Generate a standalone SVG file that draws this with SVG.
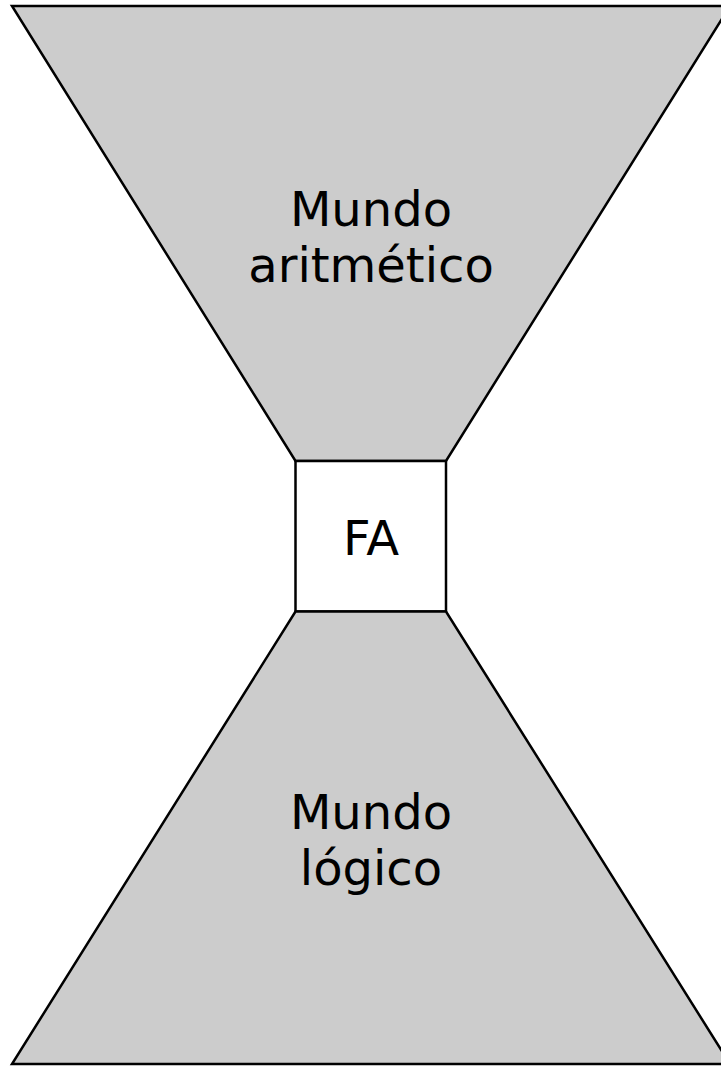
<svg xmlns="http://www.w3.org/2000/svg" width="721" height="1066" viewBox="0 0 721 1066">
<style>
.shape{fill:#cccccc;stroke:#000;stroke-width:2.5;stroke-linejoin:miter}
.box{fill:#fff;stroke:#000;stroke-width:2.5}
.lbl{font-family:"DejaVu Sans",sans-serif;font-size:48px;fill:#000;text-anchor:middle}
</style>
<rect width="721" height="1066" fill="#fff"/>
<g id="mundo-aritmetico">
<polygon class="shape" points="12,6 730,6 446,461 295.5,461"/>
<text class="lbl" x="371" y="226">Mundo</text>
<text class="lbl" x="371" y="282">aritmético</text>
</g>
<g id="fa">
<rect class="box" x="295.5" y="461" width="150.5" height="150.5"/>
<text class="lbl" x="371" y="555">FA</text>
</g>
<g id="mundo-logico">
<polygon class="shape" points="295.5,611.5 446,611.5 730,1064 12,1064"/>
<text class="lbl" x="371" y="829">Mundo</text>
<text class="lbl" x="371" y="885">lógico</text>
</g>
<g id="connectors"/>
</svg>
